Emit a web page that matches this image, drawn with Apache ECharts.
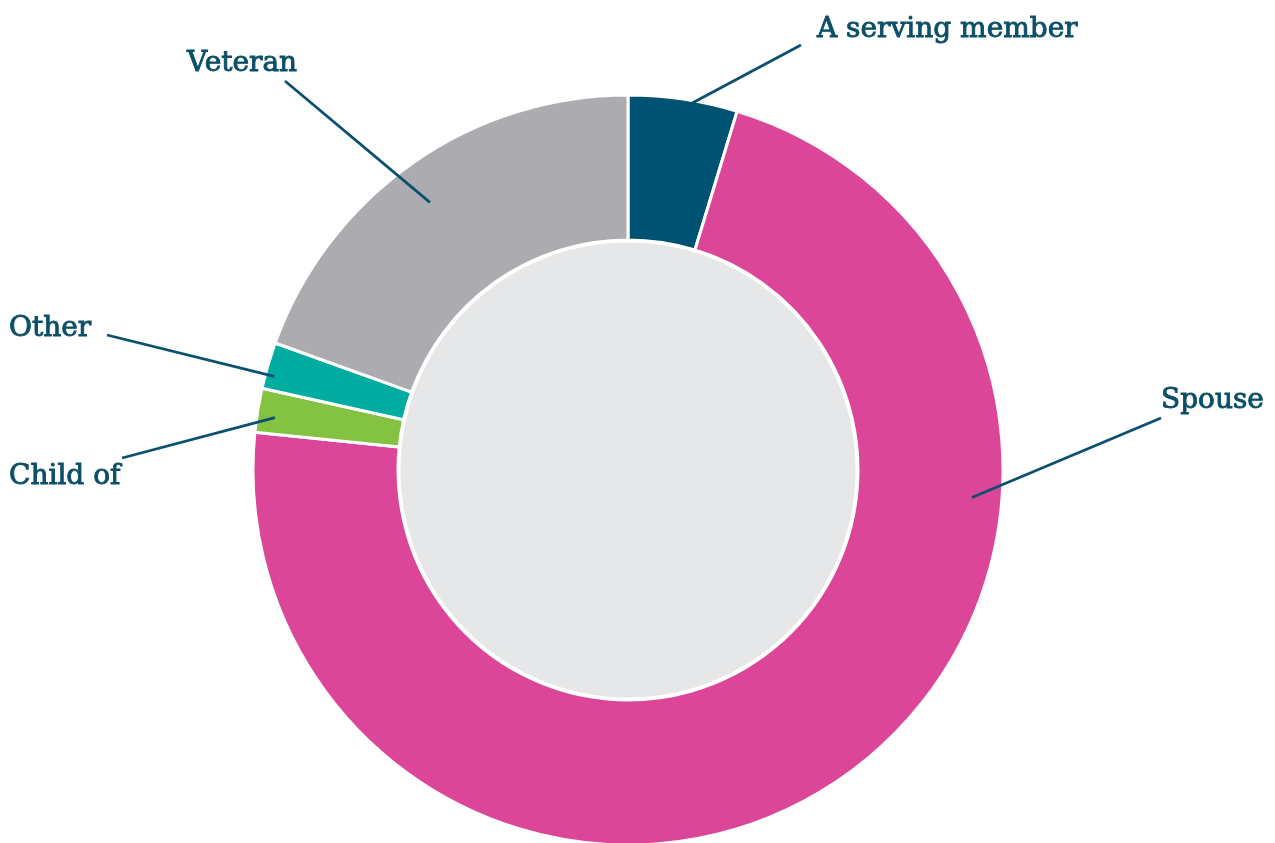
<!DOCTYPE html>
<html>
<head>
<meta charset="utf-8">
<script src="https://cdn.jsdelivr.net/npm/echarts@6/dist/echarts.min.js"></script>
<style>
  html, body { margin: 0; padding: 0; background: #ffffff; }
  #chart { width: 1275px; height: 843px; }
</style>
</head>
<body>
<div id="chart"></div>
<script>
// Categories and their share of respondents (%)
const categories = ['A serving member', 'Spouse', 'Child of', 'Other', 'Veteran'];
const shares = [4.7, 71.9, 1.9, 2.0, 19.5];

// Slice colours, in category order
const sliceColors = ['#005272', '#DB4699', '#84C341', '#00AC9F', '#ACACB0'];

// Ring geometry
const CX = 628, CY = 470;
const R_IN = 230, R_OUT = 375;

// Where each label sits and where its leader line meets the ring
// (t = position across the slice, r = radius of the line's start)
const labelSpots = [
  { x: 817, y: 30, end: [801, 45], t: 0.43, r: 360 },
  { x: 1161, y: 401, end: [1161, 418], t: 0.30, r: 345 },
  { x: 9, y: 477, end: [122, 458], t: 0.39, r: 357 },
  { x: 9, y: 329, end: [107, 335], t: 0.31, r: 366 },
  { x: 187, y: 64, end: [285, 81], t: 0.48, r: 333 }
];

const total = shares.reduce((a, b) => a + b, 0);
const startDeg = [];
shares.reduce((acc, v, i) => { startDeg[i] = acc; return acc + v / total * 360; }, 0);

function anchorPoint(i) {
  const span = shares[i] / total * 360;
  const deg = startDeg[i] + labelSpots[i].t * span;
  const rad = deg * Math.PI / 180;
  const r = labelSpots[i].r;
  return [CX + r * Math.sin(rad), CY - r * Math.cos(rad)];
}

const sliceData = categories.map((name, i) => ({
  name: name,
  value: shares[i],
  itemStyle: { color: sliceColors[i] }
}));

const chart = echarts.init(document.getElementById('chart'), null, { renderer: 'canvas' });

chart.setOption({
  animation: false,
  backgroundColor: '#ffffff',
  series: [
    {
      // light centre disc
      type: 'pie',
      center: [CX, CY],
      radius: [0, R_IN - 1],
      silent: true,
      z: 1,
      label: { show: false },
      labelLine: { show: false },
      itemStyle: { color: '#E6E7E8', borderColor: '#ffffff', borderWidth: 3 },
      data: [{ name: 'centre', value: 1 }]
    },
    {
      // coloured ring
      type: 'pie',
      center: [CX, CY],
      radius: [R_IN, R_OUT],
      startAngle: 90,
      clockwise: true,
      z: 2,
      itemStyle: { borderColor: '#ffffff', borderWidth: 3 },
      label: { show: false },
      labelLine: { show: false },
      data: sliceData
    },
    {
      // labels and leader lines, drawn above the ring
      type: 'pie',
      center: [CX, CY],
      radius: [R_IN, R_OUT],
      startAngle: 90,
      clockwise: true,
      avoidLabelOverlap: false,
      silent: true,
      z: 3,
      itemStyle: { color: 'rgba(0,0,0,0)', borderWidth: 0 },
      label: {
        show: true,
        position: 'outside',
        formatter: '{b}',
        fontFamily: 'DejaVu Serif',
        fontSize: 28,
        color: '#0B4F66',
        textBorderColor: '#0B4F66',
        textBorderWidth: 0.9,
        overflow: 'none'
      },
      labelLine: {
        show: true,
        lineStyle: { color: '#0B5070', width: 2.8 }
      },
      labelLayout: function (params) {
        const i = params.dataIndex;
        const spot = labelSpots[i];
        return {
          x: spot.x,
          y: spot.y,
          align: 'left',
          verticalAlign: 'middle',
          labelLinePoints: [anchorPoint(i), spot.end]
        };
      },
      data: categories.map((name, i) => ({ name: name, value: shares[i] }))
    }
  ]
});
</script>
</body>
</html>
